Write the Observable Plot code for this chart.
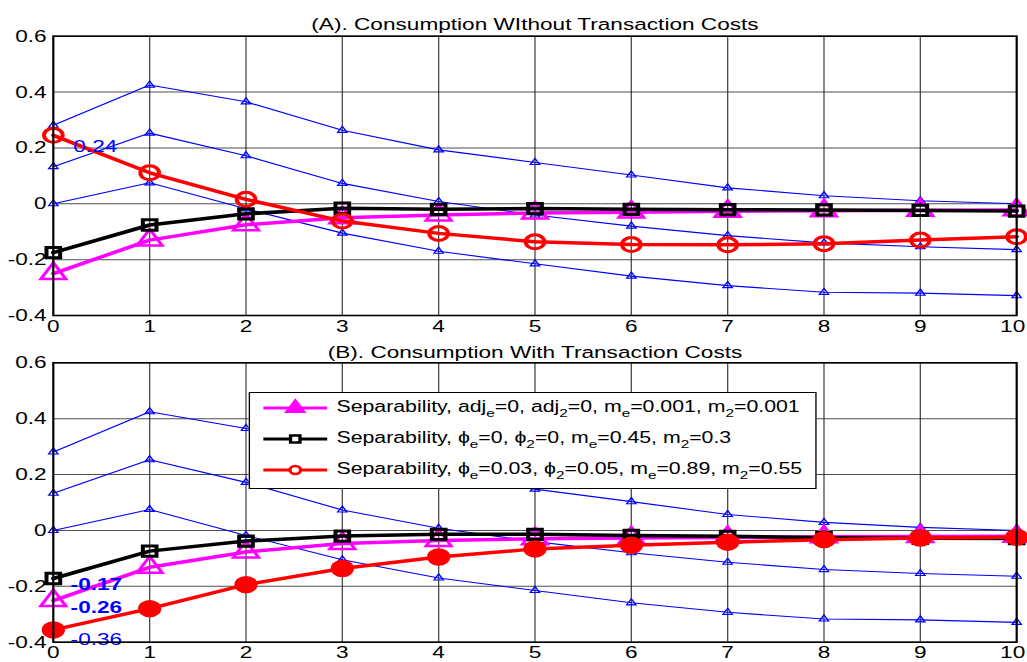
<!DOCTYPE html>
<html>
<head>
<meta charset="utf-8">
<script src="https://cdn.jsdelivr.net/npm/d3@7"></script>
<script src="https://cdn.jsdelivr.net/npm/@observablehq/plot@0.6"></script>
<style>
  html, body { margin: 0; padding: 0; background: #fff; }
  body { font-family: "Liberation Sans", Arial, Helvetica, sans-serif; }
  #wrap { position: relative; width: 772px; height: 662px; transform: scaleX(1.33); transform-origin: 0 0; overflow: visible; }
  .panel { position: absolute; left: 0; }
  #legend { position: absolute; left: 187px; top: 392px; width: 427px; height: 97px; box-sizing: border-box;
            border: 1px solid #000; background: #fff; font-size: 16px; color: #000; }
  #legend .row { position: absolute; left: 0; height: 24px; width: 100%; }
  #legend svg { position: absolute; left: 8px; top: 0; }
  #legend .lbl { position: absolute; left: 65px; top: 1px; white-space: nowrap; line-height: 20px; }
  #legend sub { font-size: 11.5px; vertical-align: -5px; line-height: 0; }
</style>
</head>
<body>
<div id="wrap"></div>
<script>
// ---------- data ----------
const steps = [0, 1, 2, 3, 4, 5, 6, 7, 8, 9, 10];
const xTicks = [0, 1, 2, 3, 4, 5, 6, 7, 8, 9, 10];
const yTicks = [-0.4, -0.2, 0, 0.2, 0.4, 0.6];
const yTickLabels = ["-0.4", "-0.2", "0", "0.2", "0.4", "0.6"];

// confidence bands (blue, same in both panels)
const bandUpper = [0.281, 0.425, 0.365, 0.263, 0.193, 0.148, 0.103, 0.057, 0.029, 0.011, 0.0];
const bandMid   = [0.133, 0.253, 0.172, 0.073, 0.008, -0.040, -0.080, -0.114, -0.140, -0.154, -0.164];
const bandLower = [0.0, 0.075, -0.018, -0.105, -0.170, -0.215, -0.259, -0.293, -0.317, -0.320, -0.329];

// Panel A: without transaction costs
const magentaA = [-0.250, -0.130, -0.075, -0.050, -0.040, -0.033, -0.030, -0.027, -0.025, -0.023, -0.022];
const blackA   = [-0.175, -0.076, -0.036, -0.016, -0.020, -0.017, -0.020, -0.021, -0.022, -0.024, -0.026];
const redA     = [0.245, 0.111, 0.016, -0.062, -0.106, -0.136, -0.146, -0.147, -0.143, -0.130, -0.118];

// Panel B: with transaction costs
const magentaB = [-0.251, -0.132, -0.077, -0.047, -0.036, -0.030, -0.027, -0.025, -0.023, -0.022, -0.021];
const blackB   = [-0.172, -0.074, -0.038, -0.020, -0.014, -0.014, -0.018, -0.021, -0.026, -0.028, -0.029];
const redB     = [-0.356, -0.280, -0.194, -0.136, -0.095, -0.066, -0.053, -0.042, -0.033, -0.027, -0.024];

const titleA = "(A). Consumption WIthout Transaction Costs";
const titleB = "(B). Consumption With Transaction Costs";

const annotationsA = [{series: "red", text: "0.24", bold: false, dx: 15, dy: 11}];
const annotationsB = [
  {series: "black", text: "-0.17", bold: true, dx: 13, dy: 6},
  {series: "magenta", text: "-0.26", bold: true, dx: 13, dy: 7},
  {series: "red", text: "-0.36", bold: false, dx: 13, dy: 10}
];

const legendLabels = [
  'Separability, adj<sub>e</sub>=0, adj<sub>2</sub>=0, m<sub>e</sub>=0.001, m<sub>2</sub>=0.001',
  'Separability, \u03D5<sub>e</sub>=0, \u03D5<sub>2</sub>=0, m<sub>e</sub>=0.45, m<sub>2</sub>=0.3',
  'Separability, \u03D5<sub>e</sub>=0.03, \u03D5<sub>2</sub>=0.05, m<sub>e</sub>=0.89, m<sub>2</sub>=0.55'
];

// ---------- helpers ----------
const rows = vals => steps.map((s, i) => ({x: s, y: vals[i]}));
const BLUE = "#0000ff", MAG = "#ff00ff", RED = "#ff0000", BLK = "#000000";

function panel({title, titleDy, height, marginTop, marginBottom, magenta, black, red, redFilled, annotations}) {
  const seriesByName = {magenta, black, red};
  const bands = [bandUpper, bandMid, bandLower];
  const lastTick = xTicks[xTicks.length - 1];
  const marks = [
    Plot.gridX(xTicks, {stroke: "#222", strokeOpacity: 0.8, strokeWidth: 1}),
    Plot.gridY(yTicks, {stroke: "#222", strokeOpacity: 0.8, strokeWidth: 1}),
    Plot.axisX(xTicks.slice(0, -1), {tickSize: 0, tickPadding: 4, fontSize: 17, tickFormat: d => String(d), label: null}),
    Plot.axisX([lastTick], {tickSize: 0, tickPadding: 4, fontSize: 17, dx: -3, tickFormat: d => String(d), label: null}),
    Plot.axisY(yTicks, {tickSize: 0, tickPadding: 5, fontSize: 17, tickFormat: d => yTickLabels[yTicks.indexOf(d)], label: null}),
  ];
  for (const b of bands) {
    marks.push(Plot.line(rows(b), {x: "x", y: "y", stroke: BLUE, strokeWidth: 1.1}));
    marks.push(Plot.dot(rows(b), {x: "x", y: "y", symbol: "triangle", r: 2.6, stroke: BLUE, strokeWidth: 1.1, fill: "none"}));
  }
  marks.push(Plot.line(rows(magenta), {x: "x", y: "y", stroke: MAG, strokeWidth: 3.5}));
  marks.push(Plot.dot(rows(magenta), {x: "x", y: "y", symbol: "triangle", r: 7, stroke: MAG, strokeWidth: 2.5, fill: "none"}));
  marks.push(Plot.line(rows(black), {x: "x", y: "y", stroke: BLK, strokeWidth: 3.5}));
  marks.push(Plot.dot(rows(black), {x: "x", y: "y", symbol: "square", r: 5.8, stroke: BLK, strokeWidth: 3, fill: "none"}));
  marks.push(Plot.line(rows(red), {x: "x", y: "y", stroke: RED, strokeWidth: 3.5}));
  if (redFilled) {
    marks.push(Plot.dot(rows(red), {x: "x", y: "y", symbol: "circle", r: 8, stroke: RED, strokeWidth: 1.5, fill: RED}));
  } else {
    marks.push(Plot.dot(rows(red), {x: "x", y: "y", symbol: "circle", r: 7, stroke: RED, strokeWidth: 3, fill: "none"}));
  }
  for (const a of annotations) {
    const vals = seriesByName[a.series];
    marks.push(Plot.text([{x: steps[0], y: vals[0], t: a.text}], {
      x: "x", y: "y", text: "t", dx: a.dx, dy: a.dy, textAnchor: "start",
      fill: BLUE, fontSize: 17, fontWeight: a.bold ? "bold" : "normal"
    }));
  }
  marks.push(Plot.frame({stroke: "#000", strokeWidth: 1.6}));
  marks.push(Plot.text([title], {frameAnchor: "top", dy: titleDy, fontSize: 17, fill: "#000"}));

  return Plot.plot({
    width: 772,
    height,
    marginLeft: 39.6,
    marginRight: 8.1,
    marginTop,
    marginBottom,
    x: {domain: [0, 10]},
    y: {domain: [-0.4, 0.6]},
    style: {fontFamily: '"Liberation Sans", Arial, Helvetica, sans-serif', fontSize: "16px", color: "#000", background: "transparent", overflow: "visible"},
    marks
  });
}

const wrap = document.getElementById("wrap");

const pa = panel({title: titleA, titleDy: -18, height: 338, marginTop: 35.7, marginBottom: 23,
  magenta: magentaA, black: blackA, red: redA, redFilled: false, annotations: annotationsA});
const da = document.createElement("div"); da.className = "panel"; da.style.top = "0px"; da.appendChild(pa); wrap.appendChild(da);

const pb = panel({title: titleB, titleDy: -17, height: 324, marginTop: 24.3, marginBottom: 20.3,
  magenta: magentaB, black: blackB, red: redB, redFilled: true, annotations: annotationsB});
const db = document.createElement("div"); db.className = "panel"; db.style.top = "338px"; db.appendChild(pb); wrap.appendChild(db);

// ---------- legend ----------
const legend = document.createElement("div");
legend.id = "legend";
const legendStyles = [
  {stroke: MAG, symbol: d3.symbolTriangle, size: Math.PI * 25, fill: MAG, sw: 2},
  {stroke: BLK, symbol: d3.symbolSquare, size: Math.PI * 16, fill: "#fff", sw: 2.5},
  {stroke: RED, symbol: d3.symbolCircle, size: Math.PI * 16, fill: "#fff", sw: 2.5}
];
const rowTops = [3, 34.3, 65.3];
legendLabels.forEach((lab, i) => {
  const st = legendStyles[i];
  const row = document.createElement("div");
  row.className = "row";
  row.style.top = rowTops[i] + "px";
  const svg = d3.create("svg").attr("width", 52).attr("height", 24);
  svg.append("line").attr("x1", 2).attr("x2", 50).attr("y1", 12).attr("y2", 12).attr("stroke", st.stroke).attr("stroke-width", 3);
  svg.append("path").attr("d", d3.symbol(st.symbol, st.size)()).attr("transform", "translate(26,12)")
     .attr("stroke", st.stroke).attr("stroke-width", st.sw).attr("fill", st.fill);
  row.appendChild(svg.node());
  const t = document.createElement("div");
  t.className = "lbl";
  t.innerHTML = lab;
  row.appendChild(t);
  legend.appendChild(row);
});
wrap.appendChild(legend);
</script>
</body>
</html>
